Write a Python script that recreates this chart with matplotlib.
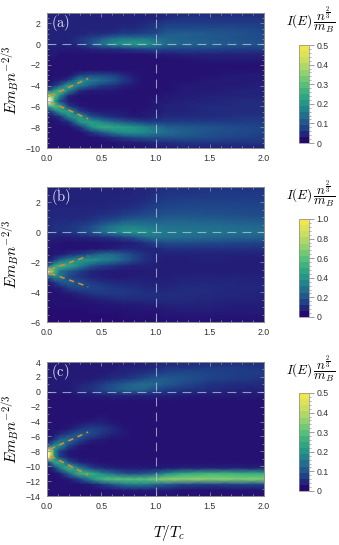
import numpy as np
import matplotlib
matplotlib.use("Agg")
import matplotlib.pyplot as plt
from matplotlib.colors import LinearSegmentedColormap, Normalize
from matplotlib.cm import ScalarMappable
from matplotlib.ticker import MultipleLocator

plt.rcParams['font.family'] = ['Liberation Sans', 'DejaVu Sans']
plt.rcParams['mathtext.fontset'] = 'cm'

# Temperatures of the columns below (T/Tc)
T = [0, 0.03, 0.07, 0.12, 0.2, 0.3, 0.4, 0.5, 0.6, 0.7, 0.8, 0.9, 1.0, 1.1, 1.25, 1.5, 1.75, 2.0]

# Intensity, one list per temperature, E from top to bottom (in 0.01 units)
E_a = [3, 2.5, 2, 1.5, 1, 0.5, 0, -0.5, -1, -1.5, -2, -2.5, -3, -3.5, -4, -4.5, -5, -5.5, -6, -6.5, -7, -7.5, -8, -8.5, -9, -9.5, -10]
I_a = [
    [3, 3, 3, 3, 3, 3, 3, 2, 2, 1, 1, 1, 1, 1, 3, 8, 40, 75, 22, 6, 2, 1, 1, 1, 1, 1, 1],
    [3, 3, 3, 3, 3, 3, 3, 2, 2, 1, 1, 1, 1, 1, 3, 12, 40, 55, 25, 6, 2, 1, 1, 1, 1, 1, 1],
    [3, 3, 3, 3, 3, 3, 3, 2, 2, 1, 1, 1, 1, 2, 5, 22, 30, 22, 30, 12, 3, 1, 1, 1, 1, 1, 1],
    [3, 3, 3, 3, 3, 3, 3, 2, 1, 1, 1, 1, 1, 2, 10, 28, 17, 8, 24, 22, 5, 2, 1, 1, 1, 1, 1],
    [3, 3, 3, 3, 3, 3, 3, 2, 1, 1, 1, 1, 1, 6, 24, 16, 3, 2, 6, 23, 18, 4, 1, 1, 1, 1, 1],
    [3, 3, 3, 3, 3, 5, 5, 2, 1, 1, 1, 1, 6, 19, 16, 4, 1, 1, 2, 7, 22, 20, 5, 1, 1, 1, 1],
    [3, 3, 3, 3, 4, 7, 9, 3, 1, 1, 1, 1, 8, 16, 10, 2, 1, 1, 1, 3, 9, 23, 18, 5, 1, 1, 1],
    [3, 3, 3, 3, 4, 10, 14, 4, 1, 1, 1, 1, 8, 13, 6, 2, 1, 1, 1, 2, 6, 17, 25, 10, 2, 1, 1],
    [3, 3, 3, 3, 5, 13, 18, 4, 1, 1, 1, 1, 7, 10, 5, 2, 1, 1, 1, 2, 4, 13, 24, 16, 4, 1, 1],
    [3, 3, 3, 4, 6, 15, 20, 5, 1, 1, 1, 1, 4, 6, 3, 1, 1, 1, 1, 2, 3, 10, 22, 19, 6, 2, 1],
    [3, 3, 3, 4, 6, 15, 22, 6, 1, 1, 1, 1, 2, 3, 2, 1, 1, 1, 1, 1, 2, 8, 20, 19, 8, 2, 1],
    [3, 3, 4, 5, 7, 15, 21, 7, 1, 1, 1, 1, 1, 1, 1, 1, 1, 1, 1, 2, 2, 6, 17, 18, 9, 3, 1],
    [3, 3, 5, 6, 8, 13, 17, 8, 2, 1, 1, 1, 1, 1, 1, 1, 1, 2, 2, 2, 3, 6, 14, 15, 9, 4, 2],
    [4, 4, 6, 8, 10, 12, 13, 7, 2, 1, 1, 1, 1, 1, 1, 1, 2, 2, 3, 3, 4, 6, 11, 13, 9, 4, 2],
    [4, 5, 6, 8, 11, 11, 12, 7, 3, 1, 1, 1, 1, 1, 2, 2, 2, 3, 3, 3, 4, 6, 10, 11, 9, 5, 3],
    [4, 5, 6, 8, 10, 10, 11, 7, 3, 2, 1, 1, 1, 2, 2, 2, 3, 3, 4, 4, 4, 6, 9, 9, 8, 5, 3],
    [4, 5, 6, 8, 9, 9, 10, 6, 3, 2, 1, 1, 2, 2, 2, 3, 3, 4, 4, 4, 5, 6, 8, 8, 7, 5, 3],
    [4, 5, 6, 7, 8, 8, 9, 6, 3, 2, 1, 1, 2, 2, 3, 3, 3, 4, 4, 4, 5, 6, 7, 7, 6, 5, 3],
]

E_b = [3, 2.625, 2.25, 1.875, 1.5, 1.125, 0.75, 0.375, 0, -0.375, -0.75, -1.125, -1.5, -1.875, -2.25, -2.625, -3, -3.375, -3.75, -4.125, -4.5, -4.875, -5.25, -5.625, -6]
I_b = [
    [6, 6, 6, 6, 7, 7, 8, 8, 8, 6, 4, 3, 3, 5, 14, 150, 14, 5, 3, 2, 2, 2, 1, 1, 1],
    [6, 6, 6, 6, 7, 7, 8, 8, 8, 6, 4, 3, 3, 6, 25, 85, 22, 6, 3, 2, 2, 2, 1, 1, 1],
    [6, 6, 6, 6, 7, 7, 8, 9, 9, 6, 3, 3, 4, 12, 48, 55, 35, 10, 4, 2, 2, 2, 1, 1, 1],
    [6, 6, 6, 6, 7, 7, 8, 9, 9, 5, 3, 2, 4, 22, 55, 28, 30, 18, 5, 3, 2, 2, 1, 1, 1],
    [6, 6, 6, 6, 7, 7, 8, 10, 10, 5, 2, 2, 8, 33, 48, 20, 15, 22, 12, 4, 2, 2, 1, 1, 1],
    [6, 6, 6, 6, 7, 7, 9, 12, 14, 6, 2, 2, 12, 40, 34, 12, 10, 17, 16, 7, 3, 2, 1, 1, 1],
    [6, 6, 6, 6, 7, 8, 10, 16, 18, 7, 2, 3, 18, 40, 20, 7, 7, 12, 14, 10, 4, 2, 2, 1, 1],
    [6, 6, 6, 6, 7, 9, 13, 22, 26, 8, 3, 3, 25, 34, 14, 5, 5, 9, 13, 11, 6, 3, 2, 1, 1],
    [6, 6, 6, 7, 8, 10, 16, 28, 32, 10, 3, 5, 25, 30, 11, 4, 4, 8, 11, 11, 7, 3, 2, 1, 1],
    [7, 6, 7, 7, 9, 12, 20, 32, 38, 13, 4, 7, 20, 23, 8, 4, 4, 7, 10, 11, 8, 4, 2, 2, 1],
    [7, 7, 7, 8, 10, 14, 22, 32, 40, 18, 5, 7, 14, 15, 6, 4, 5, 7, 9, 10, 8, 4, 3, 2, 1],
    [7, 7, 8, 10, 12, 16, 22, 30, 38, 24, 9, 6, 9, 9, 6, 5, 5, 6, 8, 9, 8, 5, 3, 2, 1],
    [8, 9, 10, 12, 14, 17, 22, 28, 33, 28, 14, 7, 6, 6, 5, 5, 5, 6, 7, 9, 8, 5, 3, 2, 2],
    [9, 10, 11, 13, 15, 18, 23, 27, 30, 27, 16, 9, 6, 5, 5, 5, 5, 6, 7, 8, 8, 6, 4, 3, 2],
    [10, 10, 12, 14, 16, 19, 23, 27, 29, 26, 16, 9, 6, 5, 5, 5, 6, 7, 8, 8, 8, 6, 5, 3, 2],
    [10, 11, 12, 14, 16, 18, 22, 26, 28, 24, 15, 9, 6, 6, 5, 5, 6, 7, 8, 8, 7, 6, 5, 3, 2],
    [10, 11, 12, 14, 15, 17, 21, 25, 27, 23, 14, 9, 6, 5, 5, 5, 6, 7, 7, 7, 6, 5, 4, 3, 2],
    [10, 11, 12, 13, 15, 16, 20, 24, 26, 22, 14, 9, 6, 5, 5, 5, 6, 6, 7, 6, 6, 5, 4, 3, 2],
]

E_c = [4, 3.25, 2.5, 1.75, 1, 0.25, -0.5, -1.25, -2, -2.75, -3.5, -4.25, -5, -5.75, -6.5, -7.25, -8, -8.75, -9.5, -10.25, -11, -11.75, -12.5, -13.25, -14]
I_c = [
    [2, 2, 2, 2, 2, 2, 1, 1, 1, 1, 1, 1, 1, 1, 2, 6, 75, 60, 6, 2, 1, 1, 1, 1, 1],
    [2, 2, 2, 2, 2, 2, 1, 1, 1, 1, 1, 1, 1, 1, 3, 12, 50, 48, 12, 2, 1, 1, 1, 1, 1],
    [2, 2, 2, 2, 2, 2, 1, 1, 1, 1, 1, 1, 1, 2, 6, 20, 18, 18, 24, 6, 1, 1, 1, 1, 1],
    [2, 2, 2, 2, 2, 2, 1, 1, 1, 1, 1, 1, 1, 4, 12, 20, 6, 6, 24, 16, 3, 1, 1, 1, 1],
    [2, 2, 2, 2, 2, 2, 1, 1, 1, 1, 1, 1, 2, 7, 14, 7, 2, 2, 9, 27, 12, 2, 1, 1, 1],
    [2, 2, 2, 2, 3, 4, 2, 1, 1, 1, 1, 2, 5, 11, 7, 2, 1, 1, 3, 16, 27, 7, 1, 1, 1],
    [2, 2, 2, 2, 4, 5, 2, 1, 1, 1, 1, 3, 7, 8, 3, 1, 1, 1, 2, 7, 26, 17, 2, 1, 1],
    [2, 2, 2, 3, 6, 7, 3, 1, 1, 1, 2, 3, 6, 5, 2, 1, 1, 1, 1, 4, 18, 27, 5, 1, 1],
    [2, 2, 3, 4, 8, 9, 3, 1, 1, 1, 1, 2, 4, 3, 1, 1, 1, 1, 1, 3, 13, 30, 9, 1, 1],
    [2, 3, 3, 5, 10, 11, 3, 1, 1, 1, 1, 1, 2, 2, 1, 1, 1, 1, 1, 2, 9, 30, 13, 2, 1],
    [2, 3, 4, 6, 12, 12, 3, 1, 1, 1, 1, 1, 1, 1, 1, 1, 1, 1, 1, 2, 8, 30, 15, 2, 1],
    [3, 3, 5, 8, 13, 11, 3, 1, 1, 1, 1, 1, 1, 1, 1, 1, 1, 1, 1, 2, 9, 30, 15, 2, 1],
    [3, 4, 6, 10, 12, 8, 3, 1, 1, 1, 1, 1, 1, 1, 1, 1, 1, 1, 1, 2, 12, 33, 12, 2, 1],
    [3, 5, 7, 10, 10, 6, 3, 1, 1, 1, 1, 1, 1, 1, 1, 1, 1, 1, 1, 2, 18, 36, 10, 2, 1],
    [4, 5, 8, 9, 8, 5, 2, 1, 1, 1, 1, 1, 1, 1, 1, 1, 1, 1, 1, 3, 24, 36, 7, 1, 1],
    [4, 6, 7, 7, 5, 4, 2, 1, 1, 1, 1, 1, 1, 1, 1, 1, 1, 1, 1, 3, 27, 36, 6, 1, 1],
    [4, 6, 6, 6, 4, 3, 2, 1, 1, 1, 1, 1, 1, 1, 1, 1, 1, 1, 1, 3, 26, 35, 7, 1, 1],
    [4, 5, 6, 5, 4, 3, 2, 1, 1, 1, 1, 1, 1, 1, 1, 1, 1, 1, 1, 3, 25, 35, 7, 1, 1],
]

# Orange dashed branches: T values, then upper and lower energies
T_fit = [0.03, 0.38]
upper_fit_a = [-5.0, -3.3]
lower_fit_a = [-5.55, -7.2]
upper_fit_b = [-2.5, -1.6]
lower_fit_b = [-2.75, -3.65]
upper_fit_c = [-7.7, -5.4]
lower_fit_c = [-8.6, -11.2]

labels = ['a', 'b', 'c']
vmaxes = [0.5, 1.0, 0.5]
ylims = [(-10, 3), (-6, 3), (-14, 4)]
yticks = [[-10, -8, -6, -4, -2, 0, 2], [-6, -4, -2, 0, 2], [-14, -12, -10, -8, -6, -4, -2, 0, 2, 4]]
cbar_ticks = [[0, 0.1, 0.2, 0.3, 0.4, 0.5], [0, 0.2, 0.4, 0.6, 0.8, 1.0], [0, 0.1, 0.2, 0.3, 0.4, 0.5]]

W, H = 339, 545
# pixel boxes: left, top, right, bottom
ax_boxes = [(47, 13, 264, 148), (47, 187, 264, 322), (47, 362, 264, 496)]
cb_boxes = [(299, 45, 309, 143), (299, 219, 309, 317), (299, 393, 309, 491)]
title_y = [20, 194, 369]

colors = ['#26096e', '#1f3f88', '#226a8e', '#1f918a', '#33ad80', '#5cc578', '#98d56c', '#cfdf5e', '#f0e64e']
cmap = LinearSegmentedColormap.from_list('spectral', colors, N=256)
cmap.set_over('white')
cmap_steps = LinearSegmentedColormap.from_list('spectral16', colors, N=16)


def to_axes(box):
    l, t, r, b = box
    return [l / W, 1 - b / H, (r - l) / W, (b - t) / H]


fig = plt.figure(figsize=(W / 100, H / 100), dpi=100)
grey = '#8c8c8c'
data = [(E_a, I_a, upper_fit_a, lower_fit_a), (E_b, I_b, upper_fit_b, lower_fit_b), (E_c, I_c, upper_fit_c, lower_fit_c)]

for i, (E, I, up, lo) in enumerate(data):
    ax = fig.add_axes(to_axes(ax_boxes[i]))
    Z = np.array(I).T / 100.0
    ax.pcolormesh(T, E, Z, cmap=cmap, vmin=0, vmax=vmaxes[i], shading='gouraud', rasterized=True)
    ax.plot(T_fit, up, color='#dd8d2c', lw=1.1, dashes=(3.5, 3))
    ax.plot(T_fit, lo, color='#dd8d2c', lw=1.1, dashes=(3.5, 3))
    ax.axhline(0, color='#b5c8d8', lw=0.8, alpha=0.75, dashes=(8, 5.5))
    ax.axvline(1, color='#b5c8d8', lw=0.8, alpha=0.75, dashes=(8, 5.5))
    ax.set_xlim(0, 2)
    ax.set_ylim(*ylims[i])
    ax.set_xticks([0, 0.5, 1.0, 1.5, 2.0])
    ax.set_yticks(yticks[i])
    ax.xaxis.set_minor_locator(MultipleLocator(0.1))
    ax.yaxis.set_minor_locator(MultipleLocator(0.5 if i < 2 else 1))
    ax.tick_params(which='both', direction='in', top=True, right=True, color=grey, width=0.6, labelsize=6.3,
                   labelcolor='#333333', pad=4.5)
    ax.tick_params(which='major', length=3)
    ax.tick_params(which='minor', length=1.5)
    for s in ax.spines.values():
        s.set_color(grey)
        s.set_linewidth(0.7)
    ax.set_yticklabels([str(v).replace('-', '\u2212') for v in yticks[i]])
    ax.set_ylabel(r'$E m_B n^{-2/3}$', fontsize=11, va='center')
    ax.yaxis.set_label_coords(-36 / 217, 0.5)
    ax.text(0.018, 0.925, r'$\mathrm{(%s)}$' % labels[i], color='#dfe8f0', fontsize=10.5, transform=ax.transAxes,
            va='center', ha='left')
    if i == 2:
        ax.set_xlabel(r'$T/T_c$', fontsize=11, va='center')
        ax.xaxis.set_label_coords(122 / 217, -37 / 134)

    # colour bar
    cax = fig.add_axes(to_axes(cb_boxes[i]))
    sm = ScalarMappable(norm=Normalize(0, vmaxes[i]), cmap=cmap_steps)
    cb = fig.colorbar(sm, cax=cax)
    cb.set_ticks(cbar_ticks[i])
    cb.set_ticklabels(['0'] + ['%.1f' % v for v in cbar_ticks[i][1:]])
    cb.ax.yaxis.set_minor_locator(MultipleLocator(vmaxes[i] / 25))
    cb.ax.tick_params(which='major', length=3.5, width=0.6, color=grey, labelsize=6.3, labelcolor='#333333', pad=2)
    cb.ax.tick_params(which='minor', length=1.5, width=0.5, color=grey)
    cb.outline.set_edgecolor(grey)
    cb.outline.set_linewidth(0.5)
    fig.text(311 / W, 1 - title_y[i] / H, r'$I(E)\,\dfrac{n^{\frac{2}{3}}}{m_B}$', fontsize=9.5, ha='center', va='center')

fig.savefig('out.png', dpi=100)
